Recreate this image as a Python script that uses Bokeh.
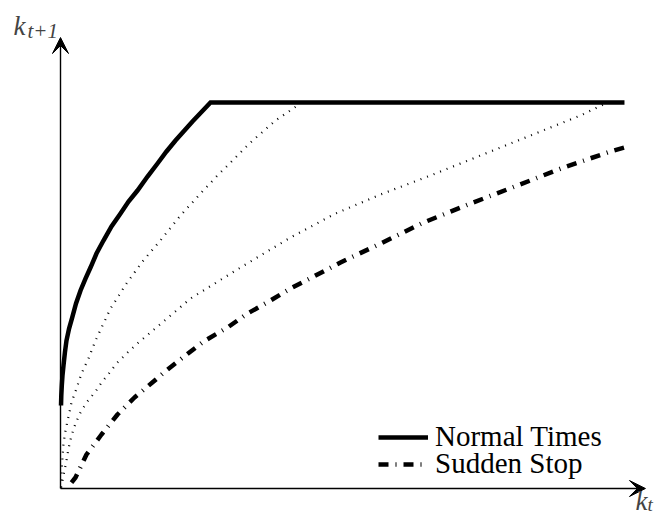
from bokeh.plotting import figure
from bokeh.models import Arrow, VeeHead, Label, Legend, LegendItem, Range1d
from bokeh.embed import file_html
from bokeh.resources import INLINE

# ---- data (x = k_t, y = k_{t+1}, normalised to the cap) ----
normal_x = [0.0009, 0.0014, 0.0023, 0.0035, 0.0053, 0.0078, 0.0106, 0.0152, 0.0207,
            0.0275, 0.0355, 0.0443, 0.0532, 0.0638, 0.0762, 0.0904, 0.1064, 0.1206,
            0.1365, 0.1543, 0.1720, 0.1879, 0.2039, 0.2340, 0.2660, 1.0]
normal_y = [0.2150, 0.2409, 0.2668, 0.2927, 0.3187, 0.3523, 0.3834, 0.4145, 0.4430,
            0.4793, 0.5130, 0.5440, 0.5725, 0.6088, 0.6425, 0.6788, 0.7124, 0.7435,
            0.7720, 0.8083, 0.8420, 0.8731, 0.9016, 0.9508, 1.0, 1.0]

dot1_x = [0.0009, 0.0018, 0.0035, 0.0053, 0.0089, 0.0142, 0.0195, 0.0284, 0.0372,
          0.0496, 0.0621, 0.0762, 0.0887, 0.1170, 0.1454, 0.1755, 0.2128, 0.2482,
          0.2766, 0.3369, 0.3812, 0.4255]
dot1_y = [0.0026, 0.0415, 0.0803, 0.1166, 0.1503, 0.1865, 0.2228, 0.2591, 0.2979,
          0.3368, 0.3834, 0.4275, 0.4663, 0.5311, 0.5881, 0.6399, 0.7073, 0.7642,
          0.8083, 0.8964, 0.9534, 0.9974]

dot2_x = [0.0009, 0.0053, 0.0106, 0.0142, 0.0195, 0.0266, 0.0355, 0.0461, 0.0621,
          0.0727, 0.0887, 0.0993, 0.1170, 0.1383, 0.1596, 0.2305, 0.3191, 0.4078,
          0.4876, 0.5674, 0.6560, 0.7447, 0.8333, 0.9220, 0.9663]
dot2_y = [0.0026, 0.0337, 0.0725, 0.1036, 0.1373, 0.1684, 0.1969, 0.2228, 0.2513,
          0.2746, 0.3031, 0.3238, 0.3497, 0.3782, 0.4041, 0.4922, 0.5725, 0.6503,
          0.7124, 0.7617, 0.8109, 0.8627, 0.9145, 0.9663, 0.9974]

stop_x = [0.0195, 0.0266, 0.0461, 0.0727, 0.1011, 0.1312, 0.1649, 0.1897, 0.2216,
          0.2535, 0.2961, 0.3316, 0.3723, 0.4078, 0.4965, 0.5674, 0.6436, 0.7270,
          0.8103, 0.8918, 0.9752, 1.0]
stop_y = [0.0155, 0.0285, 0.0881, 0.1399, 0.1917, 0.2358, 0.2772, 0.3083, 0.3446,
          0.3808, 0.4171, 0.4534, 0.4870, 0.5181, 0.5855, 0.6347, 0.6891, 0.7383,
          0.7850, 0.8316, 0.8731, 0.8834]

series_labels = ["Normal Times", "Sudden Stop"]
x_label = ("k", "t")
y_label = ("k", "t+1")

W, H = 659, 517
p = figure(width=W, height=H, output_backend="svg", toolbar_location=None,
           x_axis_type=None, y_axis_type=None,
           x_range=Range1d(-0.1064, 1.0621), y_range=Range1d(-0.0751, 1.2643),
           min_border=0, outline_line_color=None, background_fill_color="white",
           border_fill_color="white")
p.xgrid.visible = False
p.ygrid.visible = False

# axes with arrow heads
p.add_layout(Arrow(end=VeeHead(size=16, fill_color="black", line_color="black", line_width=1),
                   x_start=0, y_start=0, x_end=1.0372, y_end=0,
                   line_color="black", line_width=1.4))
p.add_layout(Arrow(end=VeeHead(size=16, fill_color="black", line_color="black", line_width=1),
                   x_start=0, y_start=0, x_end=0, y_end=1.1684,
                   line_color="black", line_width=1.4))

# dotted curves
p.line(dot1_x, dot1_y, line_color="black", line_width=2.2, line_dash="1 6")
p.line(dot2_x, dot2_y, line_color="black", line_width=2.2, line_dash="1 6")

r_normal = p.line(normal_x, normal_y, line_color="black", line_width=4.5, line_join="miter")
r_stop = p.line(stop_x, stop_y, line_color="black", line_width=4.5, line_dash="10 7 1 7")

common = dict(glyph_width=50, glyph_height=20, label_standoff=7, padding=0, margin=0,
              border_line_color=None, background_fill_alpha=0,
              label_text_font="Liberation Serif", label_text_font_size="29px",
              label_text_color="black")
legend1 = Legend(items=[LegendItem(label=series_labels[0], renderers=[r_normal])],
                 location=(378, 64), **common)
legend2 = Legend(items=[LegendItem(label=series_labels[1], renderers=[r_stop])],
                 location=(378, 37), **common)
p.add_layout(legend1)
p.add_layout(legend2)

serif = "Liberation Serif"
p.add_layout(Label(x=-0.0833, y=1.1995, text=y_label[0], text_font=serif,
                   text_font_style="italic", text_font_size="27px", text_baseline="alphabetic"))
p.add_layout(Label(x=-0.0585, y=1.1865, text=y_label[1], text_font=serif,
                   text_font_style="italic", text_font_size="21px", text_baseline="alphabetic"))
p.add_layout(Label(x=1.0195, y=-0.0311, text=x_label[0], text_font=serif,
                   text_font_style="italic", text_font_size="27px", text_baseline="alphabetic"))
p.add_layout(Label(x=1.0408, y=-0.0415, text=x_label[1], text_font=serif,
                   text_font_style="italic", text_font_size="19px", text_baseline="alphabetic"))

open("out.html", "w").write(file_html(p, INLINE))
